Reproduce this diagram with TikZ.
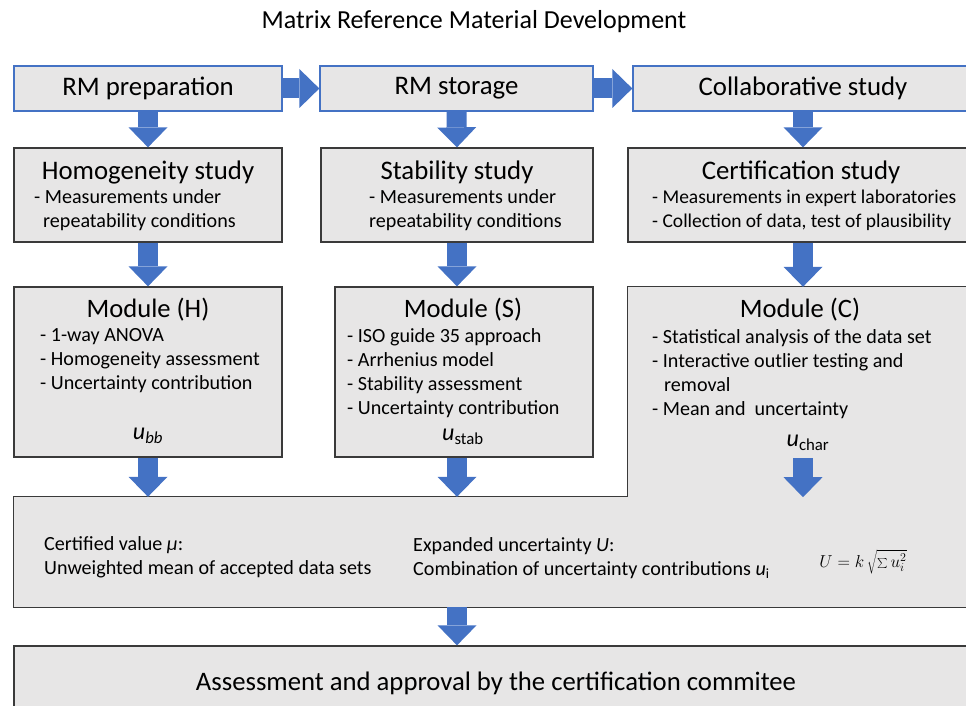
\documentclass[tikz,border=0pt]{standalone}
\usepackage{fontspec}
\setmainfont{Carlito}
\usetikzlibrary{arrows.meta,positioning}
\definecolor{boxgray}{HTML}{E7E6E6}
\definecolor{rmblue}{HTML}{4472C4}
\definecolor{edgegray}{HTML}{3A3A3A}

\begin{document}
\begin{tikzpicture}[x=1pt, y=-1pt,
		stage/.style={draw=rmblue, line width=1.3pt, fill=boxgray, minimum height=45pt, inner sep=0pt, font=\fontsize{26.8}{32}\selectfont},
		study/.style={draw=edgegray, line width=1.3pt, fill=boxgray, minimum height=94pt, inner sep=0pt},
		module/.style={draw=edgegray, line width=1.3pt, fill=boxgray, minimum height=170pt, inner sep=0pt},
		plain/.style={fill=boxgray, inner sep=0pt},
		head/.style={inner sep=0pt, font=\fontsize{26.8}{32}\selectfont},
		modhead/.style={inner sep=0pt, font=\fontsize{26.6}{32}\selectfont},
		items/.style={inner sep=0pt, anchor=west, align=left, font=\fontsize{20.1}{24}\selectfont},
		unc/.style={inner sep=0pt, font=\fontsize{24}{28}\selectfont},
		flow/.style={draw=rmblue, line width=20pt, -{Triangle[width=39pt, length=20pt, line width=0pt]}}]
		\useasboundingbox (0,0) rectangle (966,706);
		\clip (0,0) rectangle (966,706);
		
		\node (title) at (474,22) [font=\fontsize{26}{30}\selectfont] {Matrix Reference Material Development};
		
		\node[stage, minimum width=268pt] (prep) at (148,88.5) {RM preparation};
		\node[stage, minimum width=273pt] (storage) at (456.5,88.5) {RM storage};
		\node[stage, minimum width=340pt] (collab) at (803,88.5) {Collaborative study};
		
		\node[study, minimum width=268pt] (homog) at (148,195) {};
		\node[study, minimum width=272pt] (stabst) at (457,195) {};
		\node[study, minimum width=350pt] (certst) at (803,195) {};
		
		\node[module, minimum width=268pt] (modH) at (148,372) {};
		\node[module, minimum width=258pt] (modS) at (464,372) {};
		\node[plain, minimum width=350pt, minimum height=210pt] (modC) at (803,392) {};
		\node[plain, minimum width=964pt, minimum height=110pt] (lower) at (496,552) {};
		\path[draw=edgegray, line width=1.3pt] (lower.north west) -- (lower.north west -| modC.west) -- (modC.north west) -- (modC.north east) -- (lower.south east) -- (lower.south west) -- cycle;
		
		\node[plain, draw=edgegray, line width=1.3pt, minimum width=964pt, minimum height=74pt, font=\fontsize{26.7}{32}\selectfont] (approval) at (496,683) {Assessment and approval by the certification commitee};
		
		\draw[flow] (prep.east) -- (storage.west);
		\draw[flow] (storage.east) -- (collab.west);
		\draw[flow] (prep.south) -- (homog.north);
		\draw[flow] (storage.south) -- (stabst.north);
		\draw[flow] (collab.south) -- (certst.north);
		\draw[flow] (homog.south) -- (modH.north);
		\draw[flow] (stabst.south) -- (stabst.south |- modS.north);
		\draw[flow] (certst.south) -- (modC.north);
		\draw[flow] (modH.south) -- (modH.south |- lower.north);
		\draw[flow] (stabst.south |- modS.south) -- (stabst.south |- lower.north);
		\draw[flow] ([yshift=39pt]modC.south) -- (modC.south);
		\draw[flow] (stabst.south |- lower.south) -- (stabst.south |- approval.north);
		
		\node[head] (homogT) at (148,172) {Homogeneity study};
		\node[items] (homogL) at (34,210) {- Measurements under\\\hspace{9pt}repeatability conditions};
		\node[head] (stabT) at (457,172) {Stability study};
		\node[items] (stabL) at (369,210) {- Measurements under\\repeatability conditions};
		\node[head] (certT) at (801,172) {Certification study};
		\node[items, font=\fontsize{19.5}{24}\selectfont] (certL) at (652,210) {- Measurements in expert laboratories\\- Collection of data, test of plausibility};
		
		\node[modhead] (modHT) at (148,310) {Module (H)};
		\node[items] (modHL) at (40,361) {- 1-way ANOVA\\- Homogeneity assessment\\- Uncertainty contribution};
		\node[unc] (ubb) at (148,436) {\textit{u}\textsubscript{\textit{bb}}};
		
		\node[modhead] (modST) at (463,310) {Module (S)};
		\node[items] (modSL) at (347,373) {- ISO guide 35 approach\\- Arrhenius model\\- Stability assessment\\- Uncertainty contribution};
		\node[unc] (ustab) at (463,437) {\textit{u}\textsubscript{stab}};
		
		\node[modhead] (modCT) at (800,310) {Module (C)};
		\node[items] (modCL) at (652,374) {- Statistical analysis of the data set\\- Interactive outlier testing and\\\hspace{12pt}removal\\- Mean and\ \ uncertainty};
		\node[unc] (uchar) at (808,443) {\textit{u}\textsubscript{char}};
		
		\node[items] (certV) at (44,557.5) {Certified value \textit{μ}:\\Unweighted mean of accepted data sets};
		\node[items] (expU) at (413,558) {Expanded uncertainty \textit{U}:\\Combination of uncertainty contributions \textit{u}\textsubscript{i}};
		\node[inner sep=0pt, font=\fontsize{18}{20}\selectfont] (formula) at (863,562) {$U = k\,\sqrt{\textstyle\sum u_i^2}$};
	\end{tikzpicture}
\end{document}
